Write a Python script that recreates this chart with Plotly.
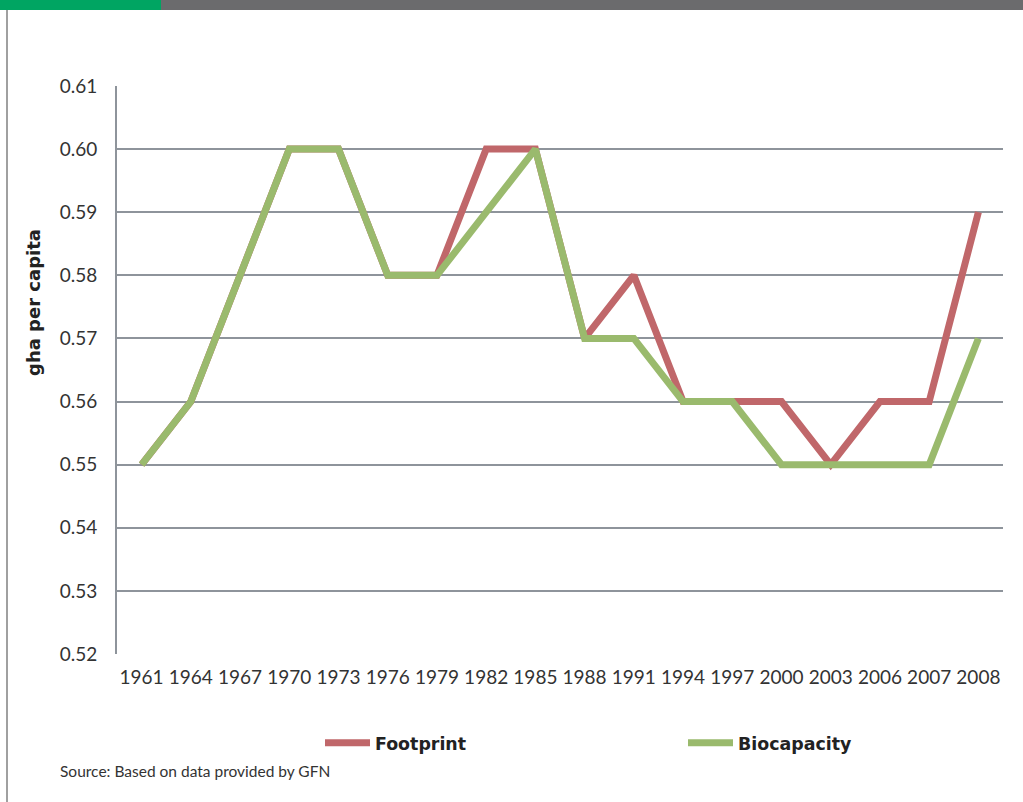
import plotly.graph_objects as go

years = ["1961", "1964", "1967", "1970", "1973", "1976", "1979", "1982", "1985",
         "1988", "1991", "1994", "1997", "2000", "2003", "2006", "2007", "2008"]
footprint = [0.55, 0.56, 0.58, 0.60, 0.60, 0.58, 0.58, 0.60, 0.60,
             0.57, 0.58, 0.56, 0.56, 0.56, 0.55, 0.56, 0.56, 0.59]
biocapacity = [0.55, 0.56, 0.58, 0.60, 0.60, 0.58, 0.58, 0.59, 0.60,
               0.57, 0.57, 0.56, 0.56, 0.55, 0.55, 0.55, 0.55, 0.57]
y_ticks = [0.52, 0.53, 0.54, 0.55, 0.56, 0.57, 0.58, 0.59, 0.60, 0.61]

W, H = 1023, 802
L, R, T, B = 117, 20, 86, 148
pw, ph = W - L - R, H - T - B

def px(x):
    return (x - L) / pw

def py(y):
    return (H - B - y) / ph

FONT = "Lato, 'Open Sans', sans-serif"
BOLD = "'DejaVu Sans', sans-serif"
RED = "#c0676a"
GREEN = "#9aba6d"
GRID = "#8e949b"

fig = go.Figure()
fig.add_trace(go.Scatter(x=years, y=footprint, mode="lines", name="Footprint",
                         line=dict(color=RED, width=7), legend="legend"))
fig.add_trace(go.Scatter(x=years, y=biocapacity, mode="lines", name="Biocapacity",
                         line=dict(color=GREEN, width=7), legend="legend2"))

legfont = dict(size=17.4, color="#222222", family=BOLD, weight="bold")
fig.update_layout(
    width=W, height=H,
    margin=dict(l=L, r=R, t=T, b=B),
    paper_bgcolor="white", plot_bgcolor="white",
    font=dict(family=FONT, color="#333333", size=19),
    showlegend=True,
    legend=dict(orientation="h", x=px(320), y=py(743), yanchor="middle", xanchor="left",
                font=legfont, bgcolor="rgba(0,0,0,0)", itemwidth=45),
    legend2=dict(orientation="h", x=px(683), y=py(743), yanchor="middle", xanchor="left",
                 font=legfont, bgcolor="rgba(0,0,0,0)", itemwidth=45),
    xaxis=dict(type="category", range=[-0.5, 17.5], showgrid=False, zeroline=False,
               showline=False, ticks="", tickfont=dict(size=19), ticklabelstandoff=10),
    yaxis=dict(range=[0.52, 0.61], tickvals=y_ticks, tickformat=".2f", showgrid=True,
               gridcolor=GRID, gridwidth=2, zeroline=False, showline=True,
               linecolor=GRID, linewidth=2, ticks="", ticklabelstandoff=14,
               tickfont=dict(size=19)),
)

shapes = [
    dict(type="rect", xref="paper", yref="paper", x0=px(0), x1=px(161), y0=py(10), y1=py(0),
         fillcolor="#00a562", line=dict(width=0), layer="above"),
    dict(type="rect", xref="paper", yref="paper", x0=px(161), x1=px(1023), y0=py(10), y1=py(0),
         fillcolor="#6b6b6d", line=dict(width=0), layer="above"),
    dict(type="line", xref="paper", yref="paper", x0=px(7), x1=px(7), y0=py(10), y1=py(802),
         line=dict(color="#a0a0a0", width=2)),
]
fig.update_layout(shapes=shapes)

fig.add_annotation(text="gha per capita", xref="paper", yref="paper", x=px(33), y=py(303),
                   textangle=-90, showarrow=False, xanchor="center", yanchor="middle",
                   font=dict(size=18, color="#222222", family=BOLD, weight="bold"))
fig.add_annotation(text="Source: Based on data provided by GFN", xref="paper", yref="paper",
                   x=px(58), y=py(771), showarrow=False, xanchor="left", yanchor="middle",
                   font=dict(size=15.5, color="#333333", family=FONT))

fig.write_html("out.html", config={"displayModeBar": False},
               post_script="document.body.style.margin='0';document.body.style.overflow='hidden';")
